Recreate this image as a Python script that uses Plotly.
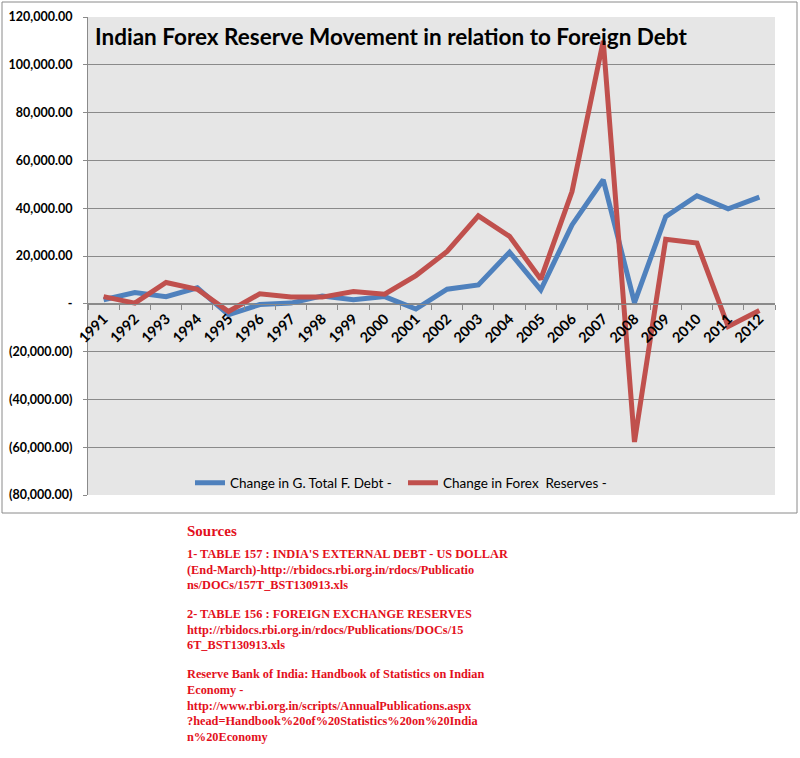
import plotly.graph_objects as go

years = [str(y) for y in range(1991, 2013)]
debt_change = [1700, 4700, 3000, 6700, -4600, -300, 300, 3300, 1700, 3000, -2200,
               6100, 7900, 21600, 5800, 33000, 51900, 500, 36500, 45200, 39700, 44600]
reserve_change = [3000, 300, 8900, 6100, -3200, 4200, 2800, 2800, 5100, 4000, 11800,
                  21900, 36800, 28200, 10300, 47000, 110000, -57800, 27000, 25400, -9500, -2800]

y_tickvals = [-80000, -60000, -40000, -20000, 0, 20000, 40000, 60000, 80000, 100000, 120000]
y_ticktext = ["(80,000.00)", "(60,000.00)", "(40,000.00)", "(20,000.00)", "-",
              "20,000.00", "40,000.00", "60,000.00", "80,000.00", "100,000.00", "120,000.00"]

title_text = "Indian Forex Reserve Movement in relation to Foreign Debt"
series_names = ["Change in G. Total F. Debt -", "Change in Forex\u00a0 Reserves -"]

sources_heading = "Sources"
sources_lines = [
    "1- TABLE 157 : INDIA'S EXTERNAL DEBT - US DOLLAR",
    "(End-March)-http://rbidocs.rbi.org.in/rdocs/Publicatio",
    "ns/DOCs/157T_BST130913.xls",
    "2- TABLE 156 : FOREIGN EXCHANGE RESERVES",
    "http://rbidocs.rbi.org.in/rdocs/Publications/DOCs/15",
    "6T_BST130913.xls",
    "Reserve Bank of India: Handbook of Statistics on Indian",
    "Economy -",
    "http://www.rbi.org.in/scripts/AnnualPublications.aspx",
    "?head=Handbook%20of%20Statistics%20on%20India",
    "n%20Economy",
]
# vertical centres (page pixels) of each source line
sources_y = [554, 570, 585, 614, 630, 645, 674, 690, 706, 721, 737]

W, H = 800, 758
L, R, T, B = 88, 775, 17, 495  # plot area in page pixels
pw, ph = R - L, B - T

def px_x(x):
    return (x - L) / pw

def px_y(y):
    return (B - y) / ph

fig = go.Figure()
fig.add_trace(go.Scatter(x=years, y=debt_change, mode="lines", name=series_names[0],
                         line=dict(color="#4F81BD", width=5)))
fig.add_trace(go.Scatter(x=years, y=reserve_change, mode="lines", name=series_names[1],
                         line=dict(color="#C0504D", width=5)))

grid_col = "#8a8a8a"
fig.update_layout(
    width=W, height=H,
    margin=dict(l=L, r=W - R, t=T, b=H - B, autoexpand=False),
    paper_bgcolor="white",
    plot_bgcolor="#E6E6E6",
    showlegend=True,
    legend=dict(orientation="h", x=px_x(190), y=px_y(483), xanchor="left", yanchor="middle",
                bgcolor="rgba(0,0,0,0)", font=dict(family="Lato", size=13.5, color="black"),
                itemwidth=30, entrywidth=168, entrywidthmode="pixels"),
    xaxis=dict(type="category", anchor="free", position=0.4, showgrid=False, automargin=False,
               showline=True, linecolor=grid_col, linewidth=1,
               ticks="outside", tickson="boundaries", ticklen=5, tickcolor=grid_col,
               tickangle=-45, tickfont=dict(family="Lato", size=14.5, color="black", weight="bold"),
               range=[-0.5, 21.5]),
    yaxis=dict(range=[-80000, 120000], tickvals=y_tickvals, ticktext=y_ticktext, automargin=False,
               showgrid=True, gridcolor=grid_col, gridwidth=1, zeroline=False,
               showline=True, linecolor=grid_col, linewidth=1,
               ticks="outside", ticklen=4, tickcolor=grid_col, ticklabelstandoff=8,
               tickfont=dict(family="Lato", size=12.5, color="black", weight="bold")),
)

# outer chart border
fig.add_shape(type="rect", xref="paper", yref="paper",
              x0=px_x(2), x1=px_x(797), y0=px_y(513), y1=px_y(2),
              line=dict(color="#8a8a8a", width=1), fillcolor="rgba(0,0,0,0)", layer="below")

# title inside plot area
fig.add_annotation(text=title_text, xref="paper", yref="paper", x=px_x(93), y=px_y(36),
                   xanchor="left", yanchor="middle", showarrow=False,
                   font=dict(family="Lato", size=22.5, color="black", weight="bold"))

# sources block
red = "#E3101C"
fig.add_annotation(text=sources_heading, xref="paper", yref="paper", x=px_x(185), y=px_y(531),
                   xanchor="left", yanchor="middle", showarrow=False,
                   font=dict(family="Liberation Serif", size=15, color=red, weight="bold"))
for line, yy in zip(sources_lines, sources_y):
    fig.add_annotation(text=line, xref="paper", yref="paper", x=px_x(185), y=px_y(yy),
                       xanchor="left", yanchor="middle", showarrow=False,
                       font=dict(family="Liberation Serif", size=12.3, color=red, weight="bold"))

fig.write_html("out.html", config={"displayModeBar": False},
               post_script="document.body.style.margin='0';document.body.style.overflow='hidden';")
